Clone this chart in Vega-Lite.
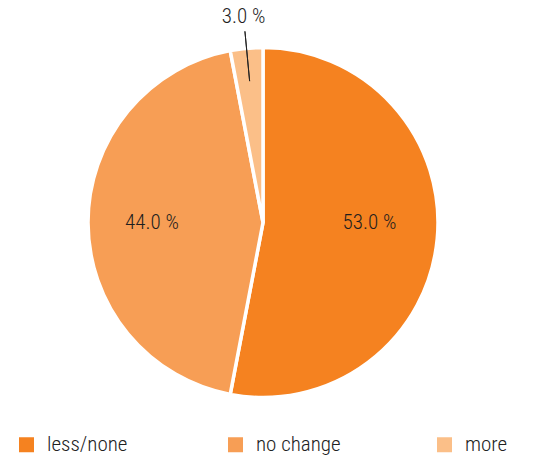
{
  "$schema": "https://vega.github.io/schema/vega-lite/v6.json",
  "width": 526,
  "height": 445,
  "autosize": "none",
  "padding": {"left": 0, "top": 0, "right": 9, "bottom": 11},
  "background": "white",
  "config": {"view": {"stroke": null}, "font": "Roboto Condensed, Liberation Sans Narrow, Roboto"},
  "data": {
    "values": [
      {"category": "less/none", "value": 53.0, "label": "53.0 %"},
      {"category": "no change", "value": 44.0, "label": "44.0 %"},
      {"category": "more", "value": 3.0, "label": "3.0 %"}
    ]
  },
  "encoding": {
    "theta": {"field": "value", "type": "quantitative", "stack": true},
    "order": {"field": "order", "type": "quantitative"}
  },
  "layer": [
    {
      "mark": {"type": "arc", "outerRadius": 175, "stroke": "white", "strokeWidth": 3.5},
      "encoding": {
        "color": {
          "field": "category",
          "type": "nominal",
          "sort": ["less/none", "no change", "more"],
          "scale": {"domain": ["less/none", "no change", "more"], "range": ["#F58220", "#F79E55", "#FBBF88"]},
          "legend": {
            "title": null,
            "orient": "none",
            "legendX": 16,
            "legendY": 434,
            "direction": "horizontal",
            "columns": 3,
            "gridAlign": "all",
            "columnPadding": 93,
            "symbolType": "square",
            "symbolSize": 225,
            "symbolStrokeWidth": 0,
            "labelFontSize": 21,
            "labelFontWeight": 300,
            "labelColor": "#222222",
            "labelOffset": 10
          }
        }
      }
    },
    {
      "mark": {"type": "text", "radius": 111, "fontSize": 21, "fontWeight": 300, "color": "#1e1e1e"},
      "encoding": {
        "text": {"condition": {"test": "datum.category == 'no change'", "field": "label"}, "value": ""}
      }
    },
    {
      "mark": {"type": "text", "radius": 111, "fontSize": 21, "fontWeight": 300, "color": "#1e1e1e", "dy": -10, "dx": -4},
      "encoding": {
        "text": {"condition": {"test": "datum.category == 'less/none'", "field": "label"}, "value": ""}
      }
    },
    {
      "mark": {"type": "text", "radius": 206, "fontSize": 21, "fontWeight": 300, "color": "#1e1e1e"},
      "encoding": {
        "text": {"condition": {"test": "datum.value <= 10", "field": "label"}, "value": ""}
      }
    },
    {
      "mark": {"type": "arc", "innerRadius": 142, "outerRadius": 192, "padAngle": 1.5, "fill": null, "strokeWidth": 1},
      "encoding": {
        "stroke": {"condition": {"test": "datum.value <= 10", "value": "#222222"}, "value": null}
      }
    }
  ]
}
